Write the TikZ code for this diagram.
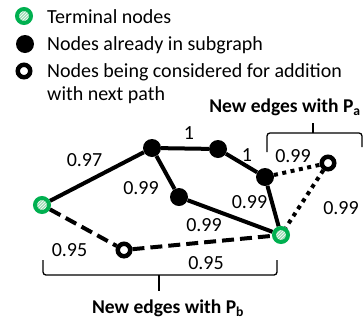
\documentclass[tikz,border=0pt]{standalone}
\usepackage{fontspec}
\setmainfont{Carlito}
\usepackage{xcolor}
\definecolor{cTerm}{HTML}{00B050}
\definecolor{cTermFill}{HTML}{9EDDB6}
\usetikzlibrary{positioning,patterns,backgrounds}
\tikzset{
  node-term/.style={circle,draw=cTerm,line width=4pt,minimum size=14pt,inner sep=0pt,
    preaction={fill=cTermFill},pattern=north east lines,pattern color=white},
  node-sub/.style={circle,fill=black,minimum size=18pt,inner sep=0pt},
  node-cand/.style={circle,draw=black,line width=4.5pt,fill=white,minimum size=12.5pt,inner sep=0pt},
  edge-sub/.style={line width=4pt,draw=black},
  edge-pa/.style={line width=4pt,draw=black,dash pattern=on 4pt off 4.5pt},
  edge-pb/.style={line width=4pt,draw=black,dash pattern=on 12pt off 6pt},
  edge-label/.style={font=\fontsize{20}{23}\selectfont,inner sep=0pt},
  legend-text/.style={font=\fontsize{20}{23}\selectfont,align=left,inner sep=0pt},
  brace-line/.style={line width=1.3pt,rounded corners=3pt},
  brace-label/.style={font=\fontsize{19.5}{23}\selectfont\bfseries,inner sep=0pt},
}
\begin{document}
\begin{tikzpicture}[x=1pt,y=-1pt]
  \useasboundingbox (0,0) rectangle (364,322);

  % legend
  \node[node-term] (leg-term) at (24,16) {};
  \node[node-sub] (leg-sub) at (25,44) {};
  \node[node-cand] (leg-cand) at (24,71) {};
  \node[legend-text,anchor=base west] (leg-term-txt) at (47,23) {Terminal nodes};
  \node[legend-text,anchor=base west] (leg-sub-txt) at (47,50) {Nodes already in subgraph};
  \node[legend-text,anchor=base west] (leg-cand-txt) at (47,100) {Nodes being considered for addition\\with next path};

  % graph
  \node[node-term] (t1) at (42,205) {};
  \node[node-term] (t2) at (281,235) {};
  \node[node-sub] (a) at (152,148) {};
  \node[node-sub] (b) at (218,149) {};
  \node[node-sub] (c) at (265,177) {};
  \node[node-sub] (d) at (179,197) {};
  \node[node-cand] (o1) at (124,250) {};
  \node[node-cand] (o2) at (328,163) {};

  \begin{scope}[on background layer]
    \draw[edge-sub] (t1) -- (a) -- (b) -- (c) -- (t2);
    \draw[edge-sub] (a) -- (d) -- (t2);
    \draw[edge-pa] (c) -- (o2) -- (t2);
    \draw[edge-pb] (t1) -- (o1) -- (t2);
  \end{scope}

  % edge weights
  \node[edge-label] (w-t1-a) at (84.5,160) {0.97};
  \node[edge-label] (w-a-b) at (189,133) {1};
  \node[edge-label] (w-b-c) at (247,155) {1};
  \node[edge-label] (w-a-d) at (141,188) {0.99};
  \node[edge-label] (w-c-o2) at (293,156) {0.99};
  \node[edge-label] (w-c-t2) at (249.5,202) {0.99};
  \node[edge-label] (w-o2-t2) at (341,208) {0.99};
  \node[edge-label] (w-d-t2) at (204,225) {0.99};
  \node[edge-label] (w-t1-o1) at (69.5,250) {0.95};
  \node[edge-label] (w-o1-t2) at (206,263) {0.95};

  % braces
  \draw[brace-line] (267,152) -- (267,133) -- (362,133) -- (362,147);
  \draw[brace-line] (313,133) -- (313,123);
  \draw[brace-line] (43,260) -- (43,275) -- (277,275) -- (277,260);
  \draw[brace-line] (159,275) -- (159,291);
  \node[brace-label,anchor=base] (pa-label) at (285,112) {New edges with P\textsubscript{a}};
  \node[brace-label,anchor=base] (pb-label) at (168,313) {New edges with P\textsubscript{b}};
\end{tikzpicture}
\end{document}
